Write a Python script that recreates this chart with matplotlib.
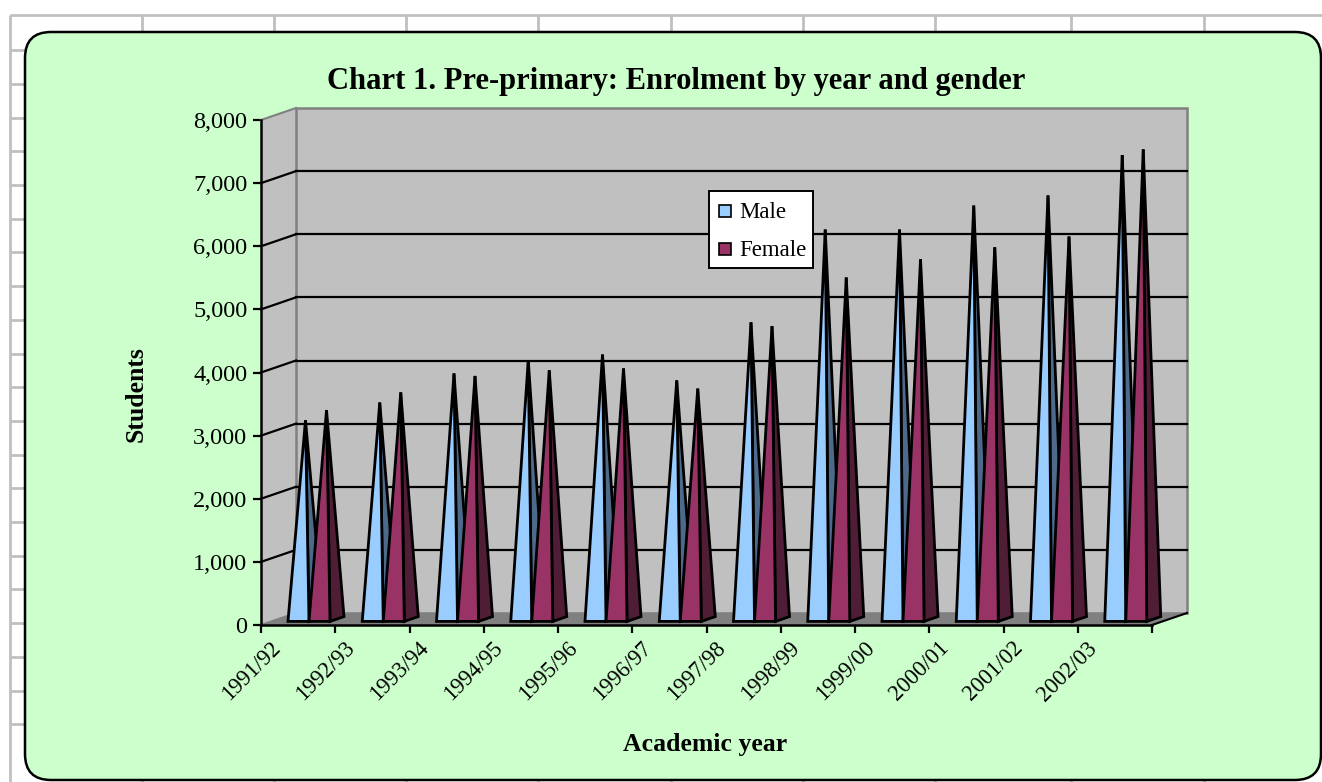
import matplotlib
matplotlib.use('Agg')
import matplotlib.pyplot as plt
from matplotlib.patches import FancyBboxPatch, Polygon, Rectangle

plt.rcParams['font.family'] = ['Liberation Serif', 'DejaVu Serif']

years = ['1991/92', '1992/93', '1993/94', '1994/95', '1995/96', '1996/97',
         '1997/98', '1998/99', '1999/00', '2000/01', '2001/02', '2002/03']
male = [3150, 3430, 3890, 4100, 4190, 3780, 4700, 6170, 6170, 6550, 6710, 7350]
female = [3310, 3590, 3850, 3940, 3970, 3650, 4640, 5410, 5700, 5890, 6060, 7440]
y_ticks = [0, 1000, 2000, 3000, 4000, 5000, 6000, 7000, 8000]

W, H = 1322, 782
# plot box in pixels, front plane
LEFT, RIGHT, TOP, BOTTOM = 261, 1152, 120, 625
DEPTH_PX_X, DEPTH_PX_Y = 35, 12

fig = plt.figure(figsize=(W / 100, H / 100), dpi=100, facecolor='white')

# spreadsheet cells behind the chart, and the rounded chart area
bg = fig.add_axes([0, 0, 1, 1])
bg.set_xlim(0, W)
bg.set_ylim(H, 0)
bg.axis('off')
for x in [10, 142, 274, 406, 538, 671, 803, 935, 1071, 1204]:
    bg.plot([x, x], [15, H], color='#C0C0C0', lw=2, solid_capstyle='butt')
for k in range(22):
    bg.plot([10, W], [15 + 0 if k == 0 else 16.5 + 33.7 * k] * 2, color='#C0C0C0', lw=2,
            solid_capstyle='butt')
bg.add_patch(FancyBboxPatch((51, 58), 1244, 696, boxstyle='round,pad=26,rounding_size=26',
                            fc='#CCFFCC', ec='black', lw=1.8, zorder=3))

ax = fig.add_axes([LEFT / W, 1 - BOTTOM / H, (RIGHT - LEFT) / W, (BOTTOM - TOP) / H])
ax.patch.set_visible(False)
ax.set_xlim(0, 12)
ax.set_ylim(0, 8000)
dx = DEPTH_PX_X * 12 / (RIGHT - LEFT)
dy = DEPTH_PX_Y * 8000 / (BOTTOM - TOP)

# walls and floor
ax.add_patch(Polygon([(0, 0), (dx, dy), (12 + dx, dy), (12, 0)], fc='#808080', ec='none',
                     clip_on=False, zorder=1))
ax.add_patch(Polygon([(0, 0), (dx, dy), (dx, 8000 + dy), (0, 8000)], fc='#C0C0C0', ec='none',
                     clip_on=False, zorder=1))
ax.add_patch(Rectangle((dx, dy), 12, 8000, fc='#C0C0C0', ec='#808080', lw=1.8,
                       clip_on=False, zorder=1))

for v in y_ticks:
    if v in (0, 8000):
        c, w = '#808080', 1.5
    else:
        c, w = 'black', 1.6
    ax.plot([0, dx], [v, v + dy], color=c, lw=w, clip_on=False, zorder=2)
    if v not in (0, 8000):
        ax.plot([dx, 12 + dx], [v + dy, v + dy], color='black', lw=1.6, clip_on=False, zorder=2)
ax.plot([12, 12 + dx], [0, dy], color='black', lw=1.5, clip_on=False, zorder=2)


def pyramid(x0, value, width, face, side, z):
    # front left corner sits 30% into the floor, the pyramid is 40% deep
    fx, fy = 0.3 * dx, 0.3 * dy
    bx, by = 0.7 * dx, 0.7 * dy
    tip = (x0 + width / 2 + 0.5 * dx, 0.5 * dy + value)
    ax.add_patch(Polygon([(x0 + width + fx, fy), (x0 + width + bx, by), tip], fc=side, ec='black',
                         lw=2, joinstyle='miter', clip_on=False, zorder=z))
    ax.add_patch(Polygon([(x0 + fx, fy), (x0 + width + fx, fy), tip], fc=face, ec='black',
                         lw=2, joinstyle='miter', clip_on=False, zorder=z + 0.1))


bar_w = 0.283
for i in range(len(years)):
    pyramid(i + 0.222, male[i], bar_w, '#99CCFF', '#4D6A8A', 3 + i)
    pyramid(i + 0.222 + bar_w, female[i], bar_w, '#993366', '#4F1D36', 3.5 + i)

# axes
for s in ('top', 'right'):
    ax.spines[s].set_visible(False)
for s in ('left', 'bottom'):
    ax.spines[s].set_linewidth(1.8)
    ax.spines[s].set_zorder(30)
ax.set_yticks(y_ticks)
ax.set_yticklabels([f'{v:,}' for v in y_ticks])
ax.set_xticks(range(13))
ax.set_xticklabels([])
ax.tick_params(axis='both', length=5.8, width=1.6, color='black')
ax.tick_params(axis='y', labelsize=17.5, pad=4)
for i, label in enumerate(years):
    ax.annotate(label, (i, 0), xytext=(16, -20), textcoords='offset pixels', rotation=45,
                rotation_mode='anchor', ha='right', va='center', fontsize=16.3,
                annotation_clip=False)

# titles
bg.text(676, 82, 'Chart 1. Pre-primary: Enrolment by year and gender', ha='center', va='center',
        fontsize=22, fontweight='bold', zorder=10)
bg.text(705, 745, 'Academic year', ha='center', va='center', fontsize=18.5, fontweight='bold', zorder=10)
bg.text(136, 394, 'Students', ha='center', va='center', rotation=90, fontsize=18.5,
        fontweight='bold', zorder=10)

# legend
leg_ax = fig.add_axes([0, 0, 1, 1], zorder=50)
leg_ax.patch.set_visible(False)
leg_ax.axis('off')
leg_ax.set_xlim(0, W)
leg_ax.set_ylim(H, 0)
leg_ax.add_patch(Rectangle((709, 191), 104, 77, fc='white', ec='black', lw=1.4))
for name, colour, y in [('Male', '#99CCFF', 211), ('Female', '#993366', 249)]:
    leg_ax.add_patch(Rectangle((719, y - 6), 12, 12, fc=colour, ec='black', lw=1.2))
    leg_ax.text(739, y + 1.5, name, va='center', ha='left', fontsize=16.5)

fig.savefig('out.png', dpi=100)
